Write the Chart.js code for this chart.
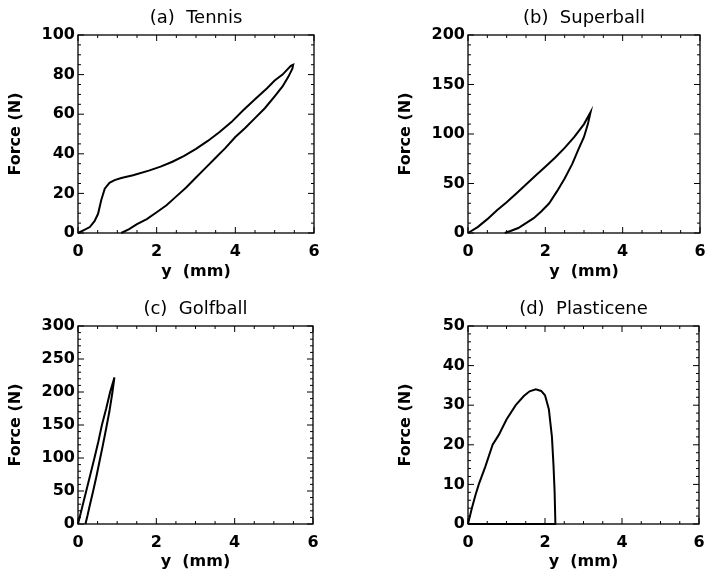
<!DOCTYPE html>
<html>
<head>
<meta charset="utf-8">
<script src="https://cdn.jsdelivr.net/npm/chart.js@4/dist/chart.umd.min.js"></script>
<style>
  html, body { margin: 0; padding: 0; background: #fff; }
  body { width: 705px; height: 575px; position: relative; overflow: hidden; }
  .panel { position: absolute; }
</style>
</head>
<body>
<div class="panel" style="left:0;top:0;width:352px;height:287px"><canvas id="tennis"></canvas></div>
<div class="panel" style="left:390px;top:0;width:315px;height:287px"><canvas id="superball"></canvas></div>
<div class="panel" style="left:0;top:291px;width:352px;height:284px"><canvas id="golfball"></canvas></div>
<div class="panel" style="left:390px;top:291px;width:315px;height:284px"><canvas id="plasticene"></canvas></div>
<script>
// (a) Tennis: loading then unloading, y in mm, force in N
const tennisY = [0, 0.15, 0.3, 0.42, 0.51, 0.59, 0.68, 0.8, 0.93, 1.1, 1.4, 1.8, 2.1, 2.4, 2.7, 3.0, 3.3, 3.6, 3.9, 4.2, 4.5, 4.8, 5.0, 5.2, 5.41, 5.47,
                 5.45, 5.35, 5.2, 5.0, 4.75, 4.5, 4.25, 4.0, 3.75, 3.5, 3.25, 3.0, 2.75, 2.5, 2.25, 2.0, 1.75, 1.5, 1.3, 1.1];
const tennisF = [0, 1.5, 3, 6, 9.7, 16.5, 22.4, 25.3, 26.7, 27.8, 29.2, 31.5, 33.5, 36, 39, 42.5, 46.5, 51, 56, 62, 67.5, 73, 77, 80, 84.4, 85,
                 83, 79, 74, 69, 63, 58, 53, 48.5, 43, 38, 33, 28, 23, 18.5, 14, 10.5, 7, 4.5, 2, 0];

// (b) Superball
const superY = [0, 0.25, 0.5, 0.75, 1.0, 1.25, 1.5, 1.75, 2.0, 2.25, 2.5, 2.75, 3.0, 3.17,
                3.1, 3.0, 2.85, 2.7, 2.5, 2.3, 2.1, 1.9, 1.7, 1.5, 1.3, 1.1, 0.95];
const superF = [0, 6, 14, 23, 31, 40, 49, 58, 67, 76, 86, 97, 110, 122,
                110, 97, 84, 70, 55, 42, 30, 22, 15, 10, 5, 2, 0];

// (c) Golfball
const golfY = [0, 0.1, 0.21, 0.32, 0.42, 0.52, 0.61, 0.72, 0.82, 0.93,
               0.88, 0.8, 0.72, 0.63, 0.55, 0.47, 0.38, 0.3, 0.24, 0.19];
const golfF = [0, 24, 50, 76, 100, 125, 150, 175, 200, 222,
               200, 170, 145, 118, 95, 72, 48, 28, 12, 0];

// (d) Plasticene
const plastY = [0, 0.1, 0.2, 0.28, 0.45, 0.64, 0.8, 1.0, 1.24, 1.45, 1.6, 1.76, 1.9, 2.0, 2.1, 2.18, 2.22, 2.25, 2.27, 0];
const plastF = [0, 4, 7.5, 10, 14.5, 20, 22.5, 26.4, 30, 32.3, 33.5, 34, 33.6, 32.5, 29, 22, 15, 8, 0, 0];

// axis ranges and tick labels
const xTicks = [0, 2, 4, 6];
const tennisTicks = [0, 20, 40, 60, 80, 100];
const superTicks = [0, 50, 100, 150, 200];
const golfTicks = [0, 50, 100, 150, 200, 250, 300];
const plastTicks = [0, 10, 20, 30, 40, 50];

Chart.defaults.font.family = "'DejaVu Sans', sans-serif";
Chart.defaults.color = '#000';
Chart.defaults.animation = false;

// IDL-style frame with inward ticks on all four sides
const frameTicks = {
    id: 'frameTicks',
    afterDraw(chart, args, opts) {
        const { ctx, chartArea: a, scales } = chart;
        ctx.save();
        ctx.strokeStyle = '#000';
        ctx.lineWidth = 1.3;
        ctx.strokeRect(a.left, a.top, a.right - a.left, a.bottom - a.top);
        ctx.lineWidth = 1;
        const draw = (scale, minor, major, horiz) => {
            const n = Math.round((scale.max - scale.min) / minor);
            for (let i = 0; i <= n; i++) {
                const v = scale.min + i * minor;
                const len = Math.abs(v / major - Math.round(v / major)) < 1e-6 ? 6 : 3;
                const p = scale.getPixelForValue(v);
                ctx.beginPath();
                if (horiz) {
                    ctx.moveTo(p, a.bottom); ctx.lineTo(p, a.bottom - len);
                    ctx.moveTo(p, a.top); ctx.lineTo(p, a.top + len);
                } else {
                    ctx.moveTo(a.left, p); ctx.lineTo(a.left + len, p);
                    ctx.moveTo(a.right, p); ctx.lineTo(a.right - len, p);
                }
                ctx.stroke();
            }
        };
        draw(scales.x, opts.xMinor, 2, true);
        draw(scales.y, opts.yMinor, opts.yMajor, false);
        ctx.restore();
    }
};

function makePanel(id, title, ys, fs, yTicks, yMinor, xHeight, xTitlePad, rightPad) {
    const pts = ys.map((v, i) => ({ x: v, y: fs[i] }));
    const yMax = yTicks[yTicks.length - 1];
    const yStep = yTicks[1] - yTicks[0];
    new Chart(document.getElementById(id), {
        type: 'scatter',
        data: {
            datasets: [{
                data: pts,
                showLine: true,
                borderColor: '#000',
                borderWidth: 2,
                pointRadius: 0,
                tension: 0,
                clip: false
            }]
        },
        options: {
            responsive: true,
            maintainAspectRatio: false,
            layout: { padding: { left: 0, right: rightPad, top: 0, bottom: 0 } },
            plugins: {
                legend: { display: false },
                tooltip: { enabled: false },
                title: {
                    display: true,
                    text: title,
                    fullSize: false,
                    font: { size: 18, weight: 'normal' },
                    padding: { top: 8, bottom: 5.4 }
                },
                frameTicks: { xMinor: 0.5, yMinor: yMinor, yMajor: yStep }
            },
            scales: {
                x: {
                    type: 'linear',
                    min: 0, max: 6,
                    grid: { display: false, drawTicks: false },
                    border: { display: false },
                    ticks: {
                        stepSize: 2, padding: 9, maxRotation: 0,
                        font: { size: 16, weight: 'bold' },
                        callback: v => xTicks.includes(v) ? String(v) : ''
                    },
                    title: {
                        display: true, text: 'y  (mm)',
                        font: { size: 16, weight: 'bold' },
                        padding: { top: 0, bottom: xTitlePad }
                    },
                    afterFit: s => { s.height = xHeight; s.paddingLeft = 0; s.paddingRight = 0; }
                },
                y: {
                    type: 'linear',
                    min: 0, max: yMax,
                    grid: { display: false, drawTicks: false },
                    border: { display: false },
                    ticks: {
                        stepSize: yStep, padding: 3,
                        font: { size: 16, weight: 'bold' },
                        callback: v => yTicks.includes(v) ? String(v) : ''
                    },
                    title: {
                        display: true, text: 'Force (N)',
                        font: { size: 16, weight: 'bold' },
                        padding: { top: 6, bottom: 0 }
                    },
                    afterFit: s => { s.width = 78; s.paddingTop = 0; s.paddingBottom = 0; }
                }
            }
        },
        plugins: [frameTicks]
    });
}

makePanel('tennis', '(a)  Tennis', tennisY, tennisF, tennisTicks, 5, 54, 6, 38);
makePanel('superball', '(b)  Superball', superY, superF, superTicks, 10, 54, 6, 5);
makePanel('golfball', '(c)  Golfball', golfY, golfF, golfTicks, 10, 51, 4, 39);
makePanel('plasticene', '(d)  Plasticene', plastY, plastF, plastTicks, 2, 51, 4, 6);
</script>
</body>
</html>
